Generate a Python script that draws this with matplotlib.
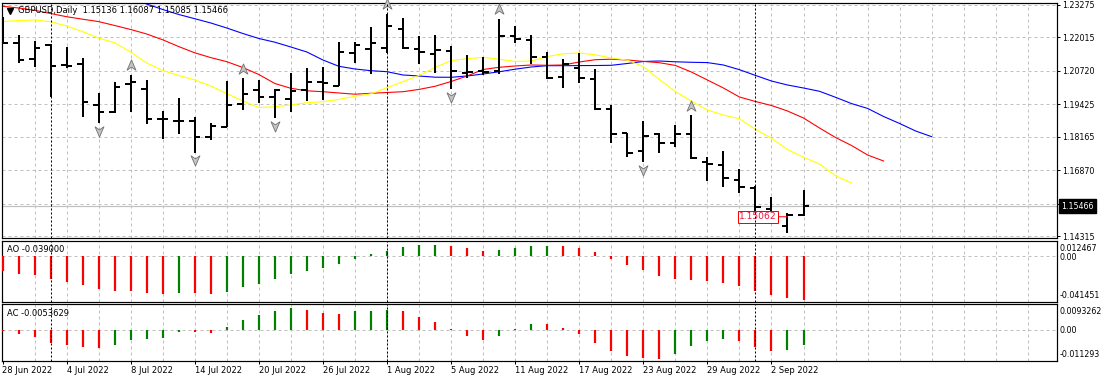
import numpy as np
import pandas as pd
import matplotlib
matplotlib.use("Agg")
import matplotlib.pyplot as plt
from matplotlib.collections import LineCollection
from matplotlib.path import Path
from matplotlib import transforms as mtrans

plt.rcParams['font.family'] = ['DejaVu Sans']
plt.rcParams['lines.scale_dashes'] = False

# ---------------- data ----------------
symbol = "GBPUSD"
timeframe = "Daily"
dates = pd.bdate_range("2022-06-28", "2022-09-06")

opens = [1.22700, 1.21789, 1.21169, 1.21724, 1.20948, 1.20975, 1.19408, 1.19113, 1.20211, 1.20017,
         1.18850, 1.18790, 1.18787, 1.18143, 1.18555, 1.19423, 1.19978, 1.19718, 1.19629, 1.19978,
         1.20300, 1.20133, 1.21425, 1.21568, 1.21619, 1.22344, 1.21568, 1.21363, 1.21491, 1.20649,
         1.20727, 1.20715, 1.22084, 1.21918, 1.21270, 1.20494, 1.20843, 1.20405, 1.19229, 1.18322,
         1.17624, 1.18271, 1.17934, 1.18260, 1.17197, 1.17069, 1.16487, 1.16165, 1.15362, 1.14714,
         1.15136]
highs = [1.22821, 1.22111, 1.21890, 1.21751, 1.21634, 1.21208, 1.19850, 1.20300, 1.20560, 1.20366,
         1.19164, 1.19656, 1.18919, 1.18710, 1.20339, 1.20432, 1.20366, 1.20005, 1.20649, 1.20820,
         1.20859, 1.21828, 1.21852, 1.22410, 1.22926, 1.22759, 1.22073, 1.22111, 1.21685, 1.21336,
         1.21270, 1.22732, 1.22461, 1.22111, 1.21440, 1.21169, 1.21425, 1.20781, 1.19396, 1.18322,
         1.18776, 1.18322, 1.18621, 1.19008, 1.17391, 1.17612, 1.16914, 1.16254, 1.15847, 1.15195,
         1.16087]
lows = [1.21789, 1.21014, 1.20882, 1.19718, 1.20820, 1.18942, 1.18686, 1.19074, 1.19136, 1.18648,
        1.18066, 1.18260, 1.17546, 1.18039, 1.18531, 1.19202, 1.19485, 1.18880, 1.19136, 1.19563,
        1.19590, 1.20133, 1.21014, 1.20599, 1.21425, 1.21557, 1.20975, 1.20626, 1.20005, 1.20432,
        1.20560, 1.20599, 1.21789, 1.20975, 1.20393, 1.20044, 1.20238, 1.19202, 1.17911, 1.17391,
        1.17174, 1.17523, 1.17779, 1.17290, 1.16460, 1.16204, 1.15971, 1.15013, 1.14936, 1.14420,
        1.15085]
closes = [1.21813, 1.21142, 1.21619, 1.20909, 1.20921, 1.19501, 1.19136, 1.20106, 1.20288, 1.18865,
          1.18842, 1.18780, 1.18167, 1.18582, 1.19396, 1.19811, 1.19695, 1.19978, 1.19951, 1.20300,
          1.20238, 1.21464, 1.21724, 1.21789, 1.22472, 1.21596, 1.21464, 1.21530, 1.20727, 1.20688,
          1.20688, 1.22084, 1.21956, 1.21246, 1.20432, 1.20975, 1.20455, 1.19241, 1.18260, 1.17523,
          1.18194, 1.17934, 1.18271, 1.17329, 1.17096, 1.16553, 1.16227, 1.15452, 1.15258, 1.15130,
          1.15466]

# Alligator lines (values per bar index, lines extend past last bar because of the shift)
jaw_start = 7
jaw = [1.23779, 1.23508, 1.23314, 1.23101, 1.22907, 1.22744, 1.22577, 1.22383, 1.22170, 1.21976,
       1.21832, 1.21646, 1.21452, 1.21142, 1.20897, 1.20793, 1.20727, 1.20688, 1.20560, 1.20521,
       1.20475, 1.20471, 1.20521, 1.20599, 1.20684, 1.20785, 1.20870, 1.20921, 1.20921, 1.20925,
       1.20928, 1.20936, 1.21006, 1.21084, 1.21103, 1.21072, 1.21053, 1.21041, 1.20948, 1.20766,
       1.20544, 1.20327, 1.20172, 1.20056, 1.19928, 1.19695, 1.19451, 1.19264, 1.18950, 1.18679,
       1.18388, 1.18167]
teeth = [1.23225, 1.23159, 1.23070, 1.22945, 1.22821, 1.22724, 1.22631, 1.22480, 1.22325, 1.22150,
         1.21925, 1.21662, 1.21421, 1.21235, 1.21076, 1.20851, 1.20579, 1.20230, 1.20044, 1.19947,
         1.19912, 1.19862, 1.19815, 1.19850, 1.19881, 1.19912, 1.20001, 1.20122, 1.20308, 1.20521,
         1.20773, 1.20859, 1.20909, 1.20948, 1.20936, 1.20948, 1.21064, 1.21153, 1.21173, 1.21142,
         1.21087, 1.21037, 1.20932, 1.20676, 1.20366, 1.20056, 1.19707, 1.19532, 1.19377, 1.19164,
         1.18892, 1.18504, 1.18136, 1.17825, 1.17457, 1.17224]
lips = [1.22635, 1.22670, 1.22693, 1.22627, 1.22461, 1.22243, 1.21995, 1.21809, 1.21452, 1.21025,
        1.20734, 1.20541, 1.20366, 1.20133, 1.19842, 1.19551, 1.19299, 1.19326, 1.19400, 1.19485,
        1.19524, 1.19614, 1.19734, 1.19831, 1.20067, 1.20304, 1.20544, 1.20851, 1.21118, 1.21192,
        1.21246, 1.21173, 1.21084, 1.21103, 1.21278, 1.21382, 1.21417, 1.21343, 1.21219, 1.21138,
        1.20886, 1.20385, 1.19920, 1.19544, 1.19202, 1.19008, 1.18861, 1.18454, 1.18105, 1.17670,
        1.17368, 1.17108, 1.16650, 1.16371]

fractal_up = [8, 15, 24, 31, 43]
fractal_down = [6, 12, 17, 28, 40]

ao = [-0.0133, -0.0157, -0.0169, -0.0207, -0.0228, -0.0258, -0.0293, -0.0311, -0.0314, -0.0329,
      -0.0337, -0.0329, -0.0331, -0.0340, -0.0320, -0.0275, -0.0249, -0.0204, -0.0163, -0.0133,
      -0.0109, -0.0071, -0.0027, 0.0020, 0.0047, 0.0080, 0.0098, 0.0100, 0.0089, 0.0071,
      0.0047, 0.0053, 0.0071, 0.0089, 0.0093, 0.0089, 0.0071, 0.0038, -0.0027, -0.0080,
      -0.0124, -0.0178, -0.0204, -0.0213, -0.0222, -0.0240, -0.0266, -0.0311, -0.0346, -0.0373,
      -0.0390]
ac = [-0.0002, -0.0013, -0.0023, -0.0045, -0.0053, -0.0059, -0.0064, -0.0052, -0.0035, -0.0030,
      -0.0028, -0.0006, -0.0007, -0.0010, 0.0013, 0.0037, 0.0056, 0.0070, 0.0081, 0.0074,
      0.0063, 0.0059, 0.0070, 0.0071, 0.0075, 0.0070, 0.0048, 0.0030, 0.0005, -0.0021,
      -0.0035, -0.0021, 0.0005, 0.0024, 0.0023, 0.0008, -0.0013, -0.0046, -0.0075, -0.0093,
      -0.0101, -0.0104, -0.0086, -0.0057, -0.0039, -0.0032, -0.0039, -0.0061, -0.0075, -0.0072,
      -0.0053629]

price_ticks = [1.23275, 1.22015, 1.20720, 1.19425, 1.18165, 1.16870, 1.15575, 1.14315]
ao_scale_labels = ["0.012467", "0.00", "-0.041451"]
ac_scale_labels = ["0.0093262", "0.00", "-0.011293"]
label_price = 1.15062
label_bar = 49

# ---------------- layout ----------------
W, H, DPI = 1102, 382, 100
PX = 72.0 / DPI
FS = 6.0
fig = plt.figure(figsize=(W / DPI, H / DPI), dpi=DPI)
fig.patch.set_facecolor('white')
L, R = 2.3, 1057.0
BAR_PX = 16.02


def add_panel(top, bottom):
    a = fig.add_axes([L / W, 1 - bottom / H, (R - L) / W, (bottom - top) / H])
    a.set_facecolor('white')
    for s in a.spines.values():
        s.set_color('black')
        s.set_linewidth(1.2 * PX)
    a.set_xlim(-0.2 / BAR_PX, (R - 2.5) / BAR_PX)
    return a


ax = add_panel(2.7, 238.3)
ax_ao = add_panel(241.0, 301.7)
ax_ac = add_panel(304.3, 361.0)

ax.set_ylim(1.14226, 1.23364)
ax_ao.set_ylim(-0.0406, 0.0133)
ax_ac.set_ylim(-0.011166, 0.009456)

n = len(closes)
x = np.arange(n)
GRID = dict(color='#c0c0c0', lw=PX, dashes=(3 * PX, 3 * PX), zorder=0)
for a in (ax, ax_ao, ax_ac):
    for k in range(2, 66, 2):
        a.axvline(k, **GRID)
for p in price_ticks:
    ax.axhline(p, **GRID)
ax_ao.axhline(0, **GRID)
ax_ac.axhline(0, **GRID)

# month separators
sep = [i for i in range(1, n) if dates[i].month != dates[i - 1].month]
for a in (ax, ax_ao, ax_ac):
    for k in sep:
        a.axvline(k, color='black', lw=PX, dashes=(2 * PX, 2 * PX), zorder=6)

# current price line
ax.axhline(closes[-1], color='#c0c0c0', lw=1.2 * PX, zorder=1)

# alligator
ax.plot(np.arange(jaw_start, jaw_start + len(jaw)), jaw, color='#0000ff', lw=1.1 * PX, zorder=2)
ax.plot(np.arange(len(teeth)), teeth, color='#ff0000', lw=1.1 * PX, zorder=2)
ax.plot(np.arange(len(lips)), lips, color='#ffff00', lw=1.1 * PX, zorder=2)

# OHLC bars
t = 5.5 / BAR_PX
segs = []
for i in range(n):
    segs.append([(i, lows[i]), (i, highs[i])])
    segs.append([(i - t, opens[i]), (i, opens[i])])
    segs.append([(i, closes[i]), (i + t, closes[i])])
ax.add_collection(LineCollection(segs, colors='black', linewidths=2 * PX,
                                 capstyle='butt', zorder=3))

# fractals
up_path = Path([(0, 1), (0.8, -0.85), (0, -0.3), (-0.8, -0.85), (0, 1)],
               [Path.MOVETO, Path.LINETO, Path.LINETO, Path.LINETO, Path.CLOSEPOLY])
dn_path = Path([(0, -1), (0.8, 0.85), (0, 0.3), (-0.8, 0.85), (0, -1)],
               [Path.MOVETO, Path.LINETO, Path.LINETO, Path.LINETO, Path.CLOSEPOLY])
tr_up = ax.transData + mtrans.ScaledTranslation(0, 9.5 / DPI, fig.dpi_scale_trans)
tr_dn = ax.transData + mtrans.ScaledTranslation(0, -7.5 / DPI, fig.dpi_scale_trans)
ax.plot(fractal_up, [highs[i] for i in fractal_up], ls='none', marker=up_path, ms=8,
        mfc='#c4c4c4', mec='#707070', mew=0.6, transform=tr_up, zorder=4, clip_on=False)
ax.plot(fractal_down, [lows[i] for i in fractal_down], ls='none', marker=dn_path, ms=8,
        mfc='#c4c4c4', mec='#707070', mew=0.6, transform=tr_dn, zorder=4, clip_on=False)

# AO / AC histograms
def hist_colors(v):
    cols = ['#ff0000']
    for i in range(1, len(v)):
        cols.append('#008000' if v[i] > v[i - 1] else '#ff0000')
    return cols

ax_ao.vlines(x, 0, ao, colors=hist_colors(ao), lw=2.2 * PX, zorder=3)
ax_ac.vlines(x, 0, ac, colors=hist_colors(ac), lw=2.2 * PX, zorder=3)

# axes ticks
for a in (ax, ax_ao, ax_ac):
    a.set_xticks([])
    a.set_yticks([])
ax.yaxis.tick_right()
ax.set_yticks(price_ticks)
ax.set_yticklabels(["" if abs(p - 1.15575) < 1e-9 else f"{p:.5f}" for p in price_ticks])
ax.tick_params(axis='y', direction='out', length=3 * PX, width=PX, pad=2.5 * PX,
               labelsize=5.7, colors='black')

lab_idx = list(range(0, n, 4))
ax_ac.set_xticks(lab_idx)
ax_ac.set_xticklabels([f"{dates[i].day} {dates[i]:%b %Y}" for i in lab_idx], ha='left')
ax_ac.tick_params(axis='x', direction='out', length=3 * PX, width=PX, pad=1.5, labelsize=FS)


def ftext(px, py, s, **kw):
    fig.text(px / W, 1 - py / H, s, va='center', ha='left', **kw)


# sub-panel scale labels
for (py, s) in zip([248.3, 257.0, 296.0], ao_scale_labels):
    ftext(1059.5, py, s, fontsize=5.7)
for (py, s) in zip([311.0, 330.6, 354.3], ac_scale_labels):
    ftext(1059.5, py, s, fontsize=5.7)

# titles
ftext(18.3, 10.8, f"{symbol},{timeframe}  {opens[-1]:.5f} {highs[-1]:.5f} "
      f"{lows[-1]:.5f} {closes[-1]:.5f}", fontsize=FS)
ax.plot([(9.8 - L) / (R - L)], [1 - (10.6 - 2.7) / (238.3 - 2.7)], marker='v', ms=4.2,
        color='black', transform=ax.transAxes, clip_on=False, zorder=7)
ftext(7.3, 250.0, f"AO {ao[-1]:.6f}", fontsize=FS)
ftext(7.3, 313.3, f"AC {ac[-1]:.7f}", fontsize=FS)

# current price box on the axis
blend = mtrans.blended_transform_factory(ax.transAxes, ax.transData)
ax.annotate(f"{closes[-1]:.5f}", xy=(1, closes[-1]), xycoords=blend,
            xytext=(4.5 * PX, 0), textcoords='offset points', va='center', ha='left',
            fontsize=5.7, color='white', annotation_clip=False,
            bbox=dict(boxstyle='square,pad=0.3', fc='black', ec='black'))

# price label object
ax.annotate(f"{label_price:.5f}", xy=(label_bar, label_price), xytext=(-10.5 * PX, 0),
            textcoords='offset points', ha='right', va='center', fontsize=6.6,
            color='#f0143c', zorder=5,
            bbox=dict(boxstyle='square,pad=0.15', fc='white', ec='#ff0000', lw=PX),
            arrowprops=dict(arrowstyle='-', color='#ff0000', lw=PX, shrinkA=0, shrinkB=0))

fig.savefig("out.png", dpi=DPI, facecolor='white')
